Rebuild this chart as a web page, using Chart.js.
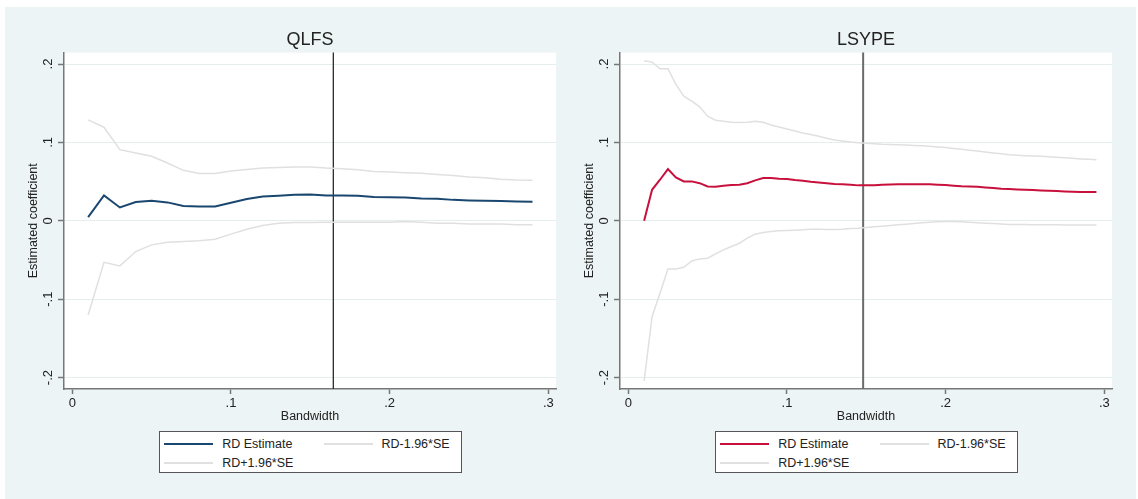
<!DOCTYPE html>
<html>
<head>
<meta charset="utf-8">
<script src="https://cdn.jsdelivr.net/npm/chart.js@4.4.1/dist/chart.umd.min.js"></script>
<style>
  body{margin:0;background:#fff;width:1138px;height:499px;overflow:hidden;font-family:"Liberation Sans",Arial,sans-serif;}
  #bg{position:absolute;left:5px;top:7px;width:1131px;height:492px;background:#edf4f5;}
  canvas{position:absolute;top:0;}
  .legend{position:absolute;top:431px;width:301px;height:40px;border:1px solid #555;background:#fff;font-size:12.5px;color:#222;}
  .key{position:absolute;width:49px;height:2px;}
  .lab{position:absolute;line-height:14px;white-space:nowrap;}
</style>
</head>
<body>
<div id="bg"></div>
<canvas id="qlfs" width="566" height="499" style="left:0px"></canvas>
<canvas id="lsype" width="566" height="499" style="left:556px"></canvas>
<script>
// QLFS panel: bandwidth steps of .01
const qlfsBw = [0.01,0.02,0.03,0.04,0.05,0.06,0.07,0.08,0.09,0.10,0.11,0.12,0.13,0.14,0.15,
  0.16,0.17,0.18,0.19,0.20,0.21,0.22,0.23,0.24,0.25,0.26,0.27,0.28,0.29];
const qlfsEst = [0.0047,0.0324,0.017,0.0239,0.0256,0.0235,0.0188,0.0183,0.0183,0.023,0.0277,0.0311,0.032,0.0332,0.0337,
  0.0324,0.0324,0.032,0.0303,0.030,0.0298,0.0285,0.028,0.0267,0.026,0.0256,0.0252,0.0247,0.0243];
const qlfsLo = [-0.1202,-0.0529,-0.0575,-0.0392,-0.0307,-0.0273,-0.0264,-0.0256,-0.0234,-0.017,-0.0107,-0.006,-0.003,-0.0021,-0.0021,
  -0.002,-0.002,-0.002,-0.002,-0.002,-0.001,-0.002,-0.003,-0.003,-0.004,-0.004,-0.004,-0.005,-0.005];
const qlfsHi = [0.1287,0.1194,0.0908,0.0865,0.0823,0.0737,0.0644,0.0605,0.0605,0.0635,0.0656,0.0673,0.068,0.0686,0.0686,
  0.0673,0.0665,0.0652,0.063,0.0622,0.0614,0.0606,0.059,0.0577,0.056,0.0548,0.0531,0.0522,0.0518];

// LSYPE panel: bandwidth steps of .005
const lsypeBw = [0.01,0.015,0.02,0.025,0.03,0.035,0.04,0.045,0.05,0.055,0.06,0.065,0.07,0.075,0.08,0.085,0.09,0.095,
  0.10,0.105,0.11,0.115,0.12,0.125,0.13,0.135,0.14,0.145,0.15,0.155,0.16,0.165,0.17,0.175,0.18,0.185,0.19,0.195,
  0.20,0.205,0.21,0.215,0.22,0.225,0.23,0.235,0.24,0.245,0.25,0.255,0.26,0.265,0.27,0.275,0.28,0.285,0.29,0.295];
const lsypeEst = [0,0.0396,0.0524,0.066,0.0554,0.0503,0.0503,0.048,0.0439,0.0435,0.0448,0.0456,0.046,0.048,0.0516,0.0546,0.0546,0.0537,
  0.0533,0.052,0.0512,0.0499,0.049,0.048,0.0469,0.0465,0.046,0.0452,0.0452,0.0455,0.046,0.0462,0.0465,0.0465,0.0465,0.0465,0.0465,0.046,
  0.0456,0.0448,0.044,0.0437,0.0435,0.0426,0.0418,0.041,0.0405,0.04,0.0397,0.0392,0.0388,0.0384,0.038,0.0375,0.0371,0.0369,0.0367,0.0366];
const lsypeLo = [-0.2042,-0.1223,-0.0925,-0.0614,-0.0614,-0.0593,-0.0512,-0.0486,-0.0477,-0.0422,-0.0371,-0.0328,-0.0286,-0.0222,-0.0171,-0.0149,-0.0136,-0.0128,
  -0.0124,-0.0119,-0.0115,-0.0107,-0.0107,-0.0111,-0.0111,-0.0107,-0.0098,-0.0094,-0.0085,-0.0077,-0.0068,-0.006,-0.0051,-0.0043,-0.0034,-0.0025,-0.0017,-0.0012,
  -0.0009,-0.001,-0.0013,-0.002,-0.0026,-0.003,-0.0034,-0.004,-0.0047,-0.0047,-0.0047,-0.0049,-0.0051,-0.0051,-0.0051,-0.0053,-0.0054,-0.0055,-0.0055,-0.0055];
const lsypeHi = [0.2042,0.2025,0.194,0.194,0.174,0.159,0.1526,0.1454,0.1334,0.1283,0.127,0.1257,0.1253,0.1257,0.127,0.1257,0.1223,0.1198,
  0.1172,0.1147,0.1121,0.11,0.1078,0.1053,0.1032,0.1019,0.1006,0.0997,0.0989,0.0982,0.0976,0.0973,0.097,0.0966,0.0962,0.0956,0.095,0.0942,
  0.0934,0.0923,0.0912,0.0901,0.089,0.0877,0.0865,0.0854,0.0844,0.0837,0.0831,0.0827,0.0823,0.0816,0.081,0.0803,0.0797,0.079,0.0784,0.078];

// optimal bandwidth markers
const qlfsOptimal = 0.1645;
const lsypeOptimal = 0.148;

const xTicks = [0, 0.1, 0.2, 0.3];
const xTickLabels = ['0', '.1', '.2', '.3'];
const yTicks = [-0.2, -0.1, 0, 0.1, 0.2];
const yTickLabels = ['-.2', '-.1', '0', '.1', '.2'];
const seriesLabels = ['RD Estimate', 'RD-1.96*SE', 'RD+1.96*SE'];

const FONT = '"Liberation Sans", Arial, sans-serif';
const TXT = '#222';
const AXIS = '#777';
const CI = '#e0e0e0';

// white plot region, vertical marker line, rotated y tick labels
const panelPlugin = {
  id: 'panel',
  beforeDraw(chart){
    const a = chart.chartArea, ctx = chart.ctx;
    ctx.save();
    ctx.fillStyle = '#fff';
    ctx.fillRect(a.left, a.top, a.right - a.left, a.bottom - a.top);
    ctx.restore();
  },
  beforeDatasetsDraw(chart){
    const o = chart.options.plugins.panel;
    const a = chart.chartArea, ctx = chart.ctx;
    const x = chart.scales.x.getPixelForValue(o.xline);
    ctx.save();
    ctx.strokeStyle = o.xlineColor;
    ctx.lineWidth = o.xlineWidth;
    ctx.beginPath(); ctx.moveTo(x, a.top); ctx.lineTo(x, a.bottom); ctx.stroke();
    ctx.restore();
  },
  afterDraw(chart){
    const a = chart.chartArea, ctx = chart.ctx, y = chart.scales.y;
    ctx.save();
    ctx.font = '13px ' + FONT;
    ctx.fillStyle = TXT;
    ctx.textAlign = 'center';
    ctx.textBaseline = 'middle';
    yTicks.forEach((v, i) => {
      ctx.save();
      ctx.translate(a.left - 16, y.getPixelForValue(v));
      ctx.rotate(-Math.PI / 2);
      ctx.fillText(yTickLabels[i], 0, 0);
      ctx.restore();
    });
    ctx.restore();
  }
};

function pts(bw, vals){ return bw.map((x, i) => ({x: x, y: vals[i]})); }

function makePanel(id, title, bw, est, lo, hi, estColor, xline, xlineColor, xlineWidth){
  const canvas = document.getElementById(id);
  const chart = new Chart(canvas, {
    type: 'line',
    data: {
      datasets: [
        {label: seriesLabels[0], data: pts(bw, est), borderColor: estColor, borderWidth: 2},
        {label: seriesLabels[1], data: pts(bw, lo), borderColor: CI, borderWidth: 1.5},
        {label: seriesLabels[2], data: pts(bw, hi), borderColor: CI, borderWidth: 1.5}
      ]
    },
    options: {
      responsive: false,
      animation: false,
      layout: {padding: {top: 0, left: 10, right: 10, bottom: 70}},
      elements: {point: {radius: 0}, line: {tension: 0}},
      plugins: {
        legend: {display: false},
        tooltip: {enabled: false},
        title: {display: true, text: title, fullSize: false, color: TXT,
          font: {size: 18, weight: 'normal', family: FONT}, padding: {top: 29, bottom: 2}},
        panel: {xline: xline, xlineColor: xlineColor, xlineWidth: xlineWidth}
      },
      scales: {
        x: {
          type: 'linear', min: -0.0052, max: 0.3048,
          afterBuildTicks: s => { s.ticks = xTicks.map(v => ({value: v})); },
          afterFit: s => { s.height = 40; },
          ticks: {callback: (v, i) => xTickLabels[i], color: TXT, font: {size: 13, family: FONT},
            padding: 2, maxRotation: 0, autoSkip: false},
          grid: {drawOnChartArea: false, tickLength: 5, tickColor: AXIS, tickWidth: 1.5},
          border: {color: AXIS, width: 1.5},
          title: {display: true, text: 'Bandwidth', color: TXT, font: {size: 12.5, family: FONT},
            padding: {top: 0, bottom: 5}}
        },
        y: {
          min: -0.2146, max: 0.2146,
          afterBuildTicks: s => { s.ticks = yTicks.map(v => ({value: v})); },
          afterFit: s => { s.width = 54; },
          ticks: {display: false},
          grid: {color: '#e5eeef', tickLength: 6, tickColor: AXIS, tickWidth: 1.5},
          border: {color: AXIS, width: 1.5},
          title: {display: true, text: 'Estimated coefficient', color: TXT, font: {size: 12.5, family: FONT},
            padding: {top: 16, bottom: 0}}
        }
      }
    },
    plugins: [panelPlugin]
  });

  // Stata style two-column legend under the plot
  const a = chart.chartArea;
  const left = canvas.offsetLeft + (a.left + a.right) / 2 - 151.5;
  const box = document.createElement('div');
  box.className = 'legend';
  box.style.left = left + 'px';
  const slots = [[4, 11.6, 62.7], [164.7, 11.6, 222], [4, 31, 62.7]];
  chart.data.datasets.forEach((ds, i) => {
    const [kx, cy, tx] = slots[i];
    const key = document.createElement('span');
    key.className = 'key';
    key.style.left = kx + 'px';
    key.style.top = (cy - 1) + 'px';
    key.style.background = ds.borderColor;
    const lab = document.createElement('span');
    lab.className = 'lab';
    lab.style.left = tx + 'px';
    lab.style.top = (cy - 7) + 'px';
    lab.textContent = ds.label;
    box.appendChild(key);
    box.appendChild(lab);
  });
  document.body.appendChild(box);
}

makePanel('qlfs', 'QLFS', qlfsBw, qlfsEst, qlfsLo, qlfsHi, '#1a476f', qlfsOptimal, '#2b2b2b', 1.3);
makePanel('lsype', 'LSYPE', lsypeBw, lsypeEst, lsypeLo, lsypeHi, '#c8103c', lsypeOptimal, '#6b6b6b', 2);
</script>
</body>
</html>
